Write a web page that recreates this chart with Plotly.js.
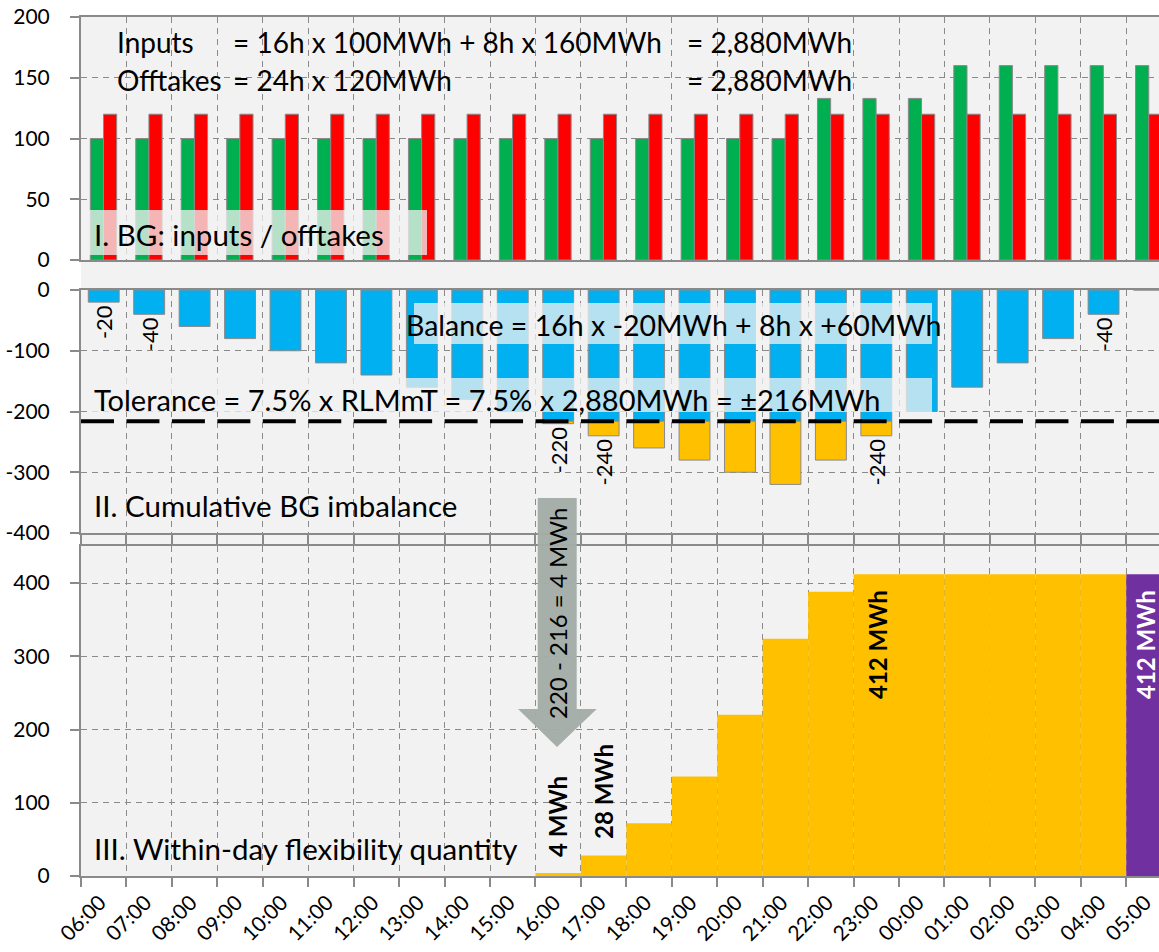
<!DOCTYPE html>
<html>
<head>
<meta charset="utf-8">
<script src="https://cdn.plot.ly/plotly-3.0.1.min.js"></script>
<style>
html, body { margin: 0; padding: 0; background: #ffffff; }
#chart { width: 1159px; height: 952px; }
</style>
</head>
<body>
<div id="chart"></div>
<script>
// ---------------- DATA ----------------
const hours = ['06:00','07:00','08:00','09:00','10:00','11:00','12:00','13:00','14:00','15:00','16:00','17:00',
               '18:00','19:00','20:00','21:00','22:00','23:00','00:00','01:00','02:00','03:00','04:00','05:00'];
// I. hourly inputs / offtakes (MWh)
const inputs   = [100,100,100,100,100,100,100,100,100,100,100,100,100,100,100,100,133,133,133,160,160,160,160,160];
const offtakes = [120,120,120,120,120,120,120,120,120,120,120,120,120,120,120,120,120,120,120,120,120,120,120,120];
// II. cumulative BG imbalance (MWh)
const cumImbalance = [-20,-40,-60,-80,-100,-120,-140,-160,-180,-200,-220,-240,-260,-280,-300,-320,-280,-240,-200,-160,-120,-80,-40,0];
const tolerance = 216;
const labelledHours = ['06:00','07:00','16:00','17:00','23:00','04:00'];
// III. within-day flexibility quantity (MWh), hours 06:00 .. 04:00, then the final value at 05:00
const flexQty = [0,0,0,0,0,0,0,0,0,0,4,28,72,136,220,324,388,412,412,412,412,412,412];
const finalFlex = 412;
// axis ticks
const topTicks = [0, 50, 100, 150, 200];
const midTicks = [0, -100, -200, -300, -400];
const botTicks = [0, 100, 200, 300, 400];

// ---------------- GEOMETRY HELPERS ----------------
const L = 81, T = 17, W = 1078, H = 859;
const px = x => (x - L) / W;
const py = y => (T + H - y) / H;

const FONT = 'Lato, "Open Sans", sans-serif';
const GREY = '#8a8a8a';
const BG = '#f2f2f2';

const xc = hours.map((h, i) => i + 0.5);
const lbl = (h, v) => labelledHours.includes(h) ? String(v) : '';

const blueY = cumImbalance.map(v => Math.max(v, -tolerance));
const blueText = cumImbalance.map((v, i) => v >= -tolerance ? lbl(hours[i], v) : '');
const orangeY = cumImbalance.map(v => v < -tolerance ? v + tolerance : null);
const orangeText = cumImbalance.map((v, i) => v < -tolerance ? lbl(hours[i], v) : '');

const traces = [
  { type: 'bar', x: xc, y: inputs, yaxis: 'y', xaxis: 'x', width: 0.29, offset: -0.295,
    marker: { color: '#00B050', line: { color: GREY, width: 1 } }, name: 'Inputs' },
  { type: 'bar', x: xc, y: offtakes, yaxis: 'y', xaxis: 'x', width: 0.29, offset: -0.005,
    marker: { color: '#FF0000', line: { color: GREY, width: 1 } }, name: 'Offtakes' },
  { type: 'bar', x: xc, y: blueY, base: 0, yaxis: 'y2', xaxis: 'x', width: 0.68,
    marker: { color: '#00B0F0', line: { color: GREY, width: 1 } },
    text: blueText, textposition: 'outside', textangle: -90, constraintext: 'none', cliponaxis: false,
    textfont: { family: FONT, size: 22, color: '#000' }, name: 'Imbalance' },
  { type: 'bar', x: xc, y: orangeY, base: -tolerance, yaxis: 'y2', xaxis: 'x', width: 0.68,
    marker: { color: '#FFC000', line: { color: GREY, width: 1 } },
    text: orangeText, textposition: 'outside', textangle: -90, constraintext: 'none', cliponaxis: false,
    textfont: { family: FONT, size: 22, color: '#000' }, name: 'Beyond tolerance' },
  { type: 'bar', x: xc.slice(0, flexQty.length), y: flexQty, yaxis: 'y3', xaxis: 'x', width: 1,
    marker: { color: '#FFC000', line: { width: 0 } }, name: 'Flexibility' },
  { type: 'bar', x: [xc[hours.length - 1]], y: [finalFlex], yaxis: 'y3', xaxis: 'x', width: 1,
    marker: { color: '#7030A0', line: { width: 0 } }, name: 'Final' }
];

const yCommon = {
  showline: true, linecolor: GREY, linewidth: 2,
  ticks: 'outside', ticklen: 9, tickcolor: GREY, tickwidth: 2,
  showgrid: true, gridcolor: GREY, gridwidth: 1, griddash: '6px,5px',
  zeroline: false, automargin: false, fixedrange: true,
  tickfont: { family: FONT, size: 21, color: '#000' },
  tickmode: 'array',
  ticklabelstandoff: 16
};

const ann = (text, x, y, size, extra) => Object.assign({
  text: text, xref: 'paper', yref: 'paper', x: px(x), y: py(y),
  xanchor: 'left', yanchor: 'middle', showarrow: false,
  font: { family: FONT, size: size, color: '#000' }
}, extra || {});
const rot = (text, x, y, size, bold, color) => ({
  text: bold ? '<b>' + text + '</b>' : text, xref: 'paper', yref: 'paper', x: px(x), y: py(y),
  xanchor: 'center', yanchor: 'middle', showarrow: false, textangle: -90,
  font: { family: FONT, size: size, color: color || '#000' }
});

const i16 = hours.indexOf('16:00'), i17 = hours.indexOf('17:00'), i23 = hours.indexOf('23:00');

const annotations = [
  ann('Inputs', 115, 42, 28),
  ann('= 16h x 100MWh + 8h x 160MWh', 231, 42, 28),
  ann('= 2,880MWh', 685, 42, 28),
  ann('Offtakes', 115, 80, 28),
  ann('= 24h x 120MWh', 231, 80, 28),
  ann('= 2,880MWh', 685, 80, 28),
  ann('I. BG: inputs / offtakes', 92, 235, 29.5),
  ann('Balance = 16h x -20MWh + 8h x +60MWh', 404, 325, 28.5),
  ann('Tolerance = 7.5% x RLMmT = 7.5% x 2,880MWh = ±' + tolerance + 'MWh', 92, 399, 29),
  ann('II. Cumulative BG imbalance', 92, 505, 29.5),
  ann('III. Within-day flexibility quantity', 92, 848, 29.5),
  rot((-cumImbalance[i16]) + ' - ' + tolerance + ' = ' + flexQty[i16] + ' MWh', 557, 614, 24, false),
  rot(flexQty[i16] + ' MWh', 557, 817, 24, true),
  rot(flexQty[i17] + ' MWh', 603, 792, 24, true),
  rot(flexQty[i23] + ' MWh', 877, 645, 24, true),
  rot(finalFlex + ' MWh', 1145, 645, 24, true, '#ffffff')
];

const rect = (x0, y0, x1, y1, fill, layer) => ({
  type: 'rect', xref: 'paper', yref: 'paper', x0: px(x0), x1: px(x1), y0: py(y1), y1: py(y0),
  fillcolor: fill, line: { width: 0 }, layer: layer
});

const arrowPts = [[537.7,498],[576.7,498],[576.7,709],[596.7,709],[557,747],[518,709],[537.7,709]];
const arrowPath = 'M ' + arrowPts.map(p => px(p[0]).toFixed(5) + ',' + py(p[1]).toFixed(5)).join(' L ') + ' Z';

const shapes = [
  rect(L, T, 1159, 876, BG, 'below'),
  rect(85, 19, 933, 97, BG, 'between'),
  rect(87, 210, 427, 255, 'rgba(242,242,242,0.75)', 'above'),
  rect(414, 303, 932, 344, 'rgba(242,242,242,0.75)', 'above'),
  rect(88, 378, 932, 412, 'rgba(242,242,242,0.75)', 'above'),
  { type: 'line', xref: 'paper', yref: 'y2', x0: 0, x1: 1, y0: -tolerance, y1: -tolerance,
    line: { color: '#000000', width: 4, dash: '33px,12.45px' }, layer: 'above' },
  { type: 'path', xref: 'paper', yref: 'paper', path: arrowPath,
    fillcolor: 'rgba(163,172,166,0.97)', line: { width: 0 }, layer: 'above' }
];

const layout = {
  width: 1159, height: 952,
  margin: { l: L, r: 0, t: T, b: 952 - T - H },
  paper_bgcolor: '#ffffff', plot_bgcolor: BG,
  showlegend: false, barmode: 'overlay',
  font: { family: FONT, color: '#000' },
  xaxis: {
    domain: [0, 1], range: [0, 23.72], anchor: 'y3',
    tickmode: 'array', tickvals: hours.map((h, i) => i), ticktext: hours,
    tickangle: -45, ticks: 'outside', ticklen: 9, tickcolor: GREY, tickwidth: 2,
    showline: true, linecolor: GREY, linewidth: 2, mirror: 'all',
    showgrid: true, gridcolor: GREY, gridwidth: 1, griddash: '6px,5px',
    zeroline: false, automargin: false, fixedrange: true,
    tickfont: { family: FONT, size: 21, color: '#000' },
    ticklabelshift: 19, ticklabelstandoff: -5, ticklabeloverflow: 'allow'
  },
  yaxis: Object.assign({}, yCommon, { domain: [(876 - 260) / H, 1], range: [0, 200],
    tickvals: topTicks, ticktext: topTicks.map(String), anchor: 'x' }),
  yaxis2: Object.assign({}, yCommon, { domain: [(876 - 533) / H, (876 - 290) / H], range: [-400, 0],
    tickvals: midTicks, ticktext: midTicks.map(String), anchor: 'x' }),
  yaxis3: Object.assign({}, yCommon, { domain: [0, (876 - 546.4) / H], range: [0, 450],
    tickvals: botTicks, ticktext: botTicks.map(String), anchor: 'x' }),
  annotations: annotations,
  shapes: shapes
};

Plotly.newPlot('chart', traces, layout, { staticPlot: true, displayModeBar: false });
</script>
</body>
</html>
